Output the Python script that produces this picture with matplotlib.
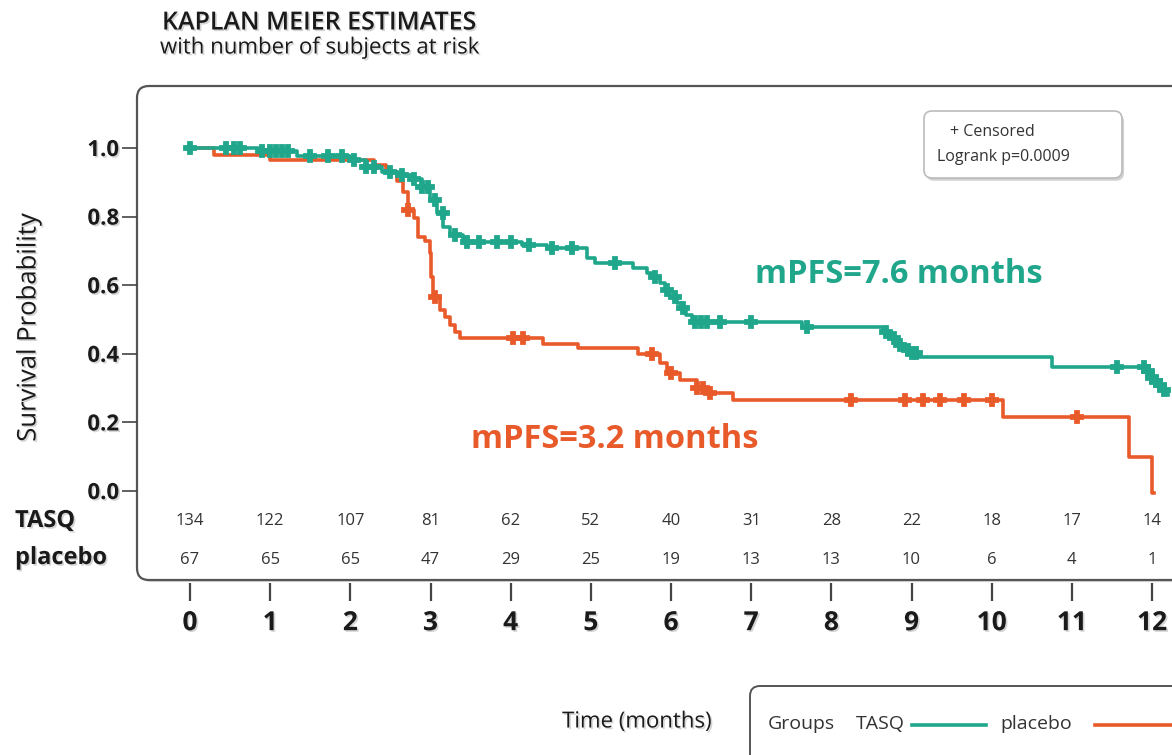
import numpy as np
import matplotlib
matplotlib.use("Agg")
import matplotlib.pyplot as plt
from matplotlib.patches import FancyBboxPatch
import matplotlib.patheffects as pe

plt.rcParams["font.family"] = ["Open Sans", "DejaVu Sans"]

TEAL = "#1fa68b"
ORANGE = "#e95a2b"
DARK = "#1a1a1a"

# --- data ------------------------------------------------------------------
tasq_t = [0, 0.85, 1.33, 2.0, 2.2, 2.4, 2.6, 2.78, 2.9, 2.99, 3.08, 3.16, 3.24,
          3.4, 4.14, 4.45, 4.95, 5.05, 5.53, 5.70, 5.78, 5.86, 5.92, 5.99,
          6.07, 6.13, 6.19, 6.26, 7.63, 8.64, 8.72, 8.81, 8.89, 8.97, 9.06,
          10.75, 11.93, 11.97, 12.0, 12.05, 12.1, 12.15, 12.2]
tasq_s = [1.0, 0.99, 0.977, 0.965, 0.945, 0.93, 0.92, 0.91, 0.886, 0.848,
          0.81, 0.77, 0.746, 0.727, 0.717, 0.708, 0.68, 0.665, 0.65, 0.636,
          0.624, 0.606, 0.586, 0.566, 0.548, 0.534, 0.513, 0.492, 0.478,
          0.464, 0.445, 0.426, 0.411, 0.402, 0.39, 0.362, 0.35, 0.34, 0.33,
          0.32, 0.31, 0.295, 0.28]
tasq_cens = [0, 0.45, 0.55, 0.62, 0.9, 1.0, 1.07, 1.15, 1.22, 1.5, 1.72, 1.9,
             2.05, 2.2, 2.3, 2.5, 2.65, 2.8, 2.9, 2.97, 3.05, 3.15, 3.3, 3.45,
             3.6, 3.83, 4.01, 4.23, 4.51, 4.76, 5.30, 5.80, 5.95, 6.05, 6.15,
             6.3, 6.37, 6.45, 6.61, 7.0, 7.69, 8.68, 8.78, 8.85, 8.95, 9.0,
             9.05, 11.56, 11.9, 11.95, 12.0, 12.05, 12.1, 12.15]

placebo_t = [0, 0.3, 1.0, 2.3, 2.45, 2.58, 2.66, 2.72, 2.8, 2.85, 2.93, 2.99,
             3.01, 3.03, 3.12, 3.18, 3.24, 3.3, 3.37, 4.40, 4.84, 5.59, 5.86,
             5.95, 6.11, 6.32, 6.48, 6.77, 10.14, 11.71, 12.0, 12.02]
placebo_s = [1.0, 0.98, 0.965, 0.95, 0.93, 0.905, 0.872, 0.82, 0.796, 0.74,
             0.73, 0.694, 0.624, 0.566, 0.528, 0.507, 0.484, 0.464, 0.446,
             0.43, 0.417, 0.40, 0.373, 0.344, 0.324, 0.30, 0.285, 0.265,
             0.215, 0.10, -0.005, -0.005]
placebo_cens = [2.72, 3.05, 4.03, 4.15, 5.76, 6.0, 6.32, 6.4, 6.48, 8.25,
                8.92, 9.14, 9.35, 9.66, 10.0, 11.06]

risk_times = list(range(13))
risk_tasq = [134, 122, 107, 81, 62, 52, 40, 31, 28, 22, 18, 17, 14]
risk_placebo = [67, 65, 65, 47, 29, 25, 19, 13, 13, 10, 6, 4, 1]
y_ticks = [0.0, 0.2, 0.4, 0.6, 0.8, 1.0]

# --- pixel layout ------------------------------------------------------------
W, H = 1172, 755
X0, XM = 190, 80.17      # pixel of month 0, pixels per month
Y0, YU = 491, 343        # pixel of prob 0, pixels per 1.0
BOX_L, BOX_T, BOX_R, BOX_B = 137, 86, 1200, 580


def fx(x):
    return x / W


def fy(y):
    return 1 - y / H


shadow = [pe.withSimplePatchShadow(offset=(1.2, -1.2), shadow_rgbFace="#888888", alpha=0.35)]

fig = plt.figure(figsize=(W / 100, H / 100), dpi=100)

# rounded frame around plot + risk table
frame = FancyBboxPatch((BOX_L / 100, (H - BOX_B) / 100),
                       (BOX_R - BOX_L) / 100, (BOX_B - BOX_T) / 100,
                       boxstyle="round,pad=0,rounding_size=0.12",
                       transform=fig.dpi_scale_trans, facecolor="white",
                       edgecolor="#555555", linewidth=1.6, zorder=-1,
                       path_effects=[pe.withSimplePatchShadow(offset=(1.5, -1.5), alpha=0.2)])
fig.add_artist(frame)

ax = fig.add_axes([fx(BOX_L), fy(BOX_B), (BOX_R - BOX_L) / W, (BOX_B - BOX_T) / H])
ax.set_facecolor("none")
ax.set_xlim((BOX_L - X0) / XM, (BOX_R - X0) / XM)
ax.set_ylim((Y0 - BOX_B) / YU, (Y0 - BOX_T) / YU)
for sp in ax.spines.values():
    sp.set_visible(False)
ax.spines["bottom"].set_position(("outward", 2))


def censor_y(t, s, c):
    idx = np.searchsorted(t, c, side="right") - 1
    return np.asarray(s)[idx]


ax.step(tasq_t, tasq_s, where="post", color=TEAL, lw=2.6, zorder=3)
ax.plot(tasq_cens, censor_y(tasq_t, tasq_s, tasq_cens), "P", color=TEAL,
        ms=9, mew=1.3, mec=TEAL, zorder=4)
ax.step(placebo_t, placebo_s, where="post", color=ORANGE, lw=2.6, zorder=2)
ax.plot(placebo_cens, censor_y(placebo_t, placebo_s, placebo_cens), "P",
        color=ORANGE, ms=9, mew=1.3, mec=ORANGE, zorder=2.5)

ax.set_xticks(risk_times)
ax.set_xticklabels([str(t) for t in risk_times], fontsize=19, fontweight="bold",
                   color=DARK)
ax.set_yticks(y_ticks)
ax.set_yticklabels([f"{v:.1f}" for v in y_ticks], fontsize=16, fontweight="bold",
                   color=DARK)
ax.tick_params(axis="x", direction="out", length=13, width=1.6, color="#444444", pad=6)
ax.tick_params(axis="y", direction="out", length=11, width=1.2, color="#444444", pad=2)
for lab in ax.get_xticklabels() + ax.get_yticklabels():
    lab.set_path_effects(shadow)

# number at risk
for t, a, b in zip(risk_times, risk_tasq, risk_placebo):
    ax.text(t, (Y0 - 521) / YU, str(a), ha="center", va="center", fontsize=12,
            color="#333333")
    ax.text(t, (Y0 - 560) / YU, str(b), ha="center", va="center", fontsize=12,
            color="#333333")
fig.text(fx(15), fy(521), "TASQ", ha="left", va="center", fontsize=17,
         fontweight="bold", color=DARK, path_effects=shadow)
fig.text(fx(15), fy(558), "placebo", ha="left", va="center", fontsize=17,
         fontweight="bold", color=DARK, path_effects=shadow)

# median annotations
ax.text(7.05, 0.63, "mPFS=7.6 months", fontsize=23.5, fontweight="bold",
        color=TEAL, ha="left", va="center")
ax.text(3.5, 0.15, "mPFS=3.2 months", fontsize=23.5, fontweight="bold",
        color=ORANGE, ha="left", va="center")

# titles
fig.text(fx(162), fy(23), "KAPLAN MEIER ESTIMATES", fontsize=18,
         fontweight="semibold", ha="left", va="center", color=DARK,
         path_effects=shadow)
fig.text(fx(160), fy(48), "with number of subjects at risk", fontsize=16,
         fontweight="medium", ha="left", va="center", color=DARK,
         path_effects=shadow)
fig.text(fx(29), fy(327), "Survival Probability", rotation=90, fontsize=18.5,
         ha="center", va="center", color=DARK, path_effects=shadow)

# censored / logrank box
cbox = FancyBboxPatch((924 / 100, (H - 178) / 100), 198 / 100, 67 / 100,
                      boxstyle="round,pad=0,rounding_size=0.08",
                      transform=fig.dpi_scale_trans, facecolor="white",
                      edgecolor="#bbbbbb", linewidth=1.2, zorder=5,
                      path_effects=[pe.withSimplePatchShadow(offset=(1.5, -2), alpha=0.25)])
fig.add_artist(cbox)
fig.text(fx(950), fy(132), "+ Censored", fontsize=11.5, ha="left", va="center",
         color="#333333", zorder=6)
fig.text(fx(937), fy(157), "Logrank p=0.0009", fontsize=11.5, ha="left",
         va="center", color="#333333", zorder=6)

# x-axis label and group legend
fig.text(fx(637), fy(722), "Time (months)", fontsize=16, ha="center",
         va="center", color=DARK, path_effects=shadow)
lbox = FancyBboxPatch((750 / 100, (H - 800) / 100), 500 / 100, 114 / 100,
                      boxstyle="round,pad=0,rounding_size=0.1",
                      transform=fig.dpi_scale_trans, facecolor="white",
                      edgecolor="#555555", linewidth=1.4, zorder=5)
fig.add_artist(lbox)
fig.text(fx(768), fy(724), "Groups", fontsize=14, ha="left", va="center",
         color="#333333", zorder=6)
fig.text(fx(856), fy(724), "TASQ", fontsize=14, ha="left", va="center",
         color="#333333", zorder=6)
fig.add_artist(plt.Line2D([fx(912), fx(986)], [fy(725), fy(725)], color=TEAL,
                          lw=2.6, transform=fig.transFigure, zorder=6))
fig.text(fx(1000), fy(724), "placebo", fontsize=14, ha="left", va="center",
         color="#333333", zorder=6)
fig.add_artist(plt.Line2D([fx(1095), fx(1172)], [fy(725), fy(725)],
                          color=ORANGE, lw=2.6, transform=fig.transFigure,
                          zorder=6))

fig.savefig("out.png", dpi=100)
